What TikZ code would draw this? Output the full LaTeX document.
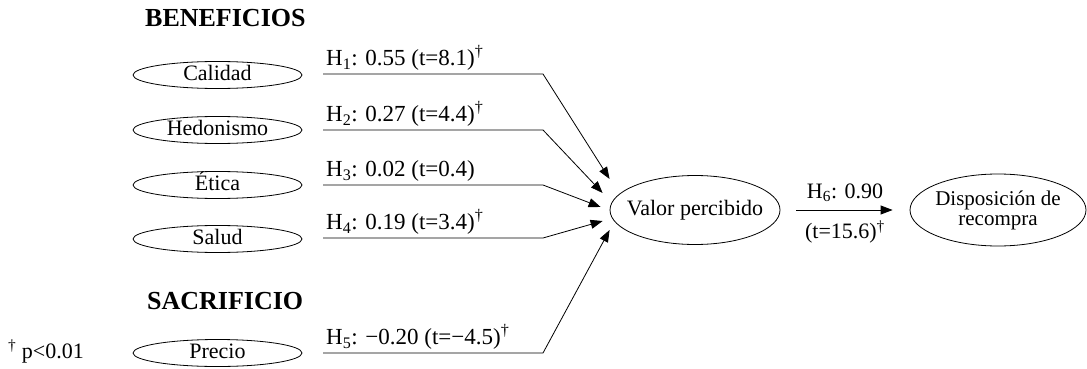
\documentclass[tikz,border=0pt]{standalone}
\usepackage{fontspec}
\setmainfont{Liberation Serif}
\usetikzlibrary{positioning, arrows.meta, calc, shapes.geometric}

\begin{document}
\begin{tikzpicture}[x=1pt, y=-1pt,
    construct/.style={draw, ellipse, line width=0.8pt, inner sep=0pt,
      minimum width=169pt, minimum height=27pt, text height=12pt, text depth=1pt,
      font=\fontsize{22}{26}\selectfont},
    bigconstruct/.style={draw, ellipse, line width=0.8pt, inner sep=0pt,
      font=\fontsize{22}{26}\selectfont},
    heading/.style={anchor=west, inner sep=0pt, font=\fontsize{26}{30}\selectfont\bfseries},
    coef/.style={anchor=south west, inner sep=3pt, font=\fontsize{23}{26}\selectfont},
    link/.style={line width=0.8pt, -{Triangle[length=12pt, width=9pt]}}]
  \useasboundingbox (0,0) rectangle (1087,369);

  % benefits and sacrifice
  \node[heading] (benef) at (145,18.5) {BENEFICIOS};
  \node[construct] (calidad) at (217.5,75) {Calidad};
  \node[construct] (hedon) at (217.5,130) {Hedonismo};
  \node[construct] (etica) at (217.5,185) {Ética};
  \node[construct] (salud) at (217.5,239) {Salud};
  \node[heading] (sacrif) at (147,301) {SACRIFICIO};
  \node[construct] (precio) at (217.5,353) {Precio};
  \node[anchor=base west, inner sep=0pt, font=\fontsize{22}{26}\selectfont] (nota)
    at (8,358) {\textsuperscript{†} p<0.01};

  % outcome constructs
  \node[bigconstruct, inner xsep=-12pt, minimum width=170pt, minimum height=69pt]
    (valor) at (695,210) {Valor percibido};
  \node[bigconstruct, inner xsep=-8pt, minimum width=176pt, minimum height=72pt,
    align=center, font=\fontsize{21}{20}\selectfont]
    (dispo) at (998,210) {Disposición de\\recompra};

  % paths H1--H5
  \coordinate (s1) at (323,74);  \coordinate (b1) at (543,74);
  \coordinate (s2) at (323,130); \coordinate (b2) at (543,130);
  \coordinate (s3) at (323,185); \coordinate (b3) at (543,185);
  \coordinate (s4) at (323,238); \coordinate (b4) at (543,238);
  \coordinate (s5) at (323,353); \coordinate (b5) at (543,353);
  \coordinate (t1) at ($(valor.west)+(0,-31)$);
  \coordinate (t2) at ($(valor.west)+(-7,-17)$);
  \coordinate (t3) at ($(valor.west)+(-9,-3)$);
  \coordinate (t4) at ($(valor.west)+(-7,11)$);
  \coordinate (t5) at ($(valor.west)+(0,20)$);

  \node[coef] (h1) at (s1) {H\textsubscript{1}: 0.55 (t=8.1)\textsuperscript{†}};
  \node[coef] (h2) at (s2) {H\textsubscript{2}: 0.27 (t=4.4)\textsuperscript{†}};
  \node[coef] (h3) at (s3) {H\textsubscript{3}: 0.02 (t=0.4)};
  \node[coef] (h4) at (s4) {H\textsubscript{4}: 0.19 (t=3.4)\textsuperscript{†}};
  \node[coef] (h5) at (s5) {H\textsubscript{5}: −0.20 (t=−4.5)\textsuperscript{†}};

  \draw[link] (s1) -- (b1) -- (t1);
  \draw[link] (s2) -- (b2) -- (t2);
  \draw[link] (s3) -- (b3) -- (t3);
  \draw[link] (s4) -- (b4) -- (t4);
  \draw[link] (s5) -- (b5) -- (t5);

  % H6
  \draw[link, shorten <=16pt, shorten >=17pt] (valor) -- (dispo)
    node[midway, above=5pt, font=\fontsize{22}{26}\selectfont] (h6) {H\textsubscript{6}: 0.90}
    node[midway, below=7pt, font=\fontsize{22}{26}\selectfont] (h6t) {(t=15.6)\textsuperscript{†}};
\end{tikzpicture}
\end{document}
